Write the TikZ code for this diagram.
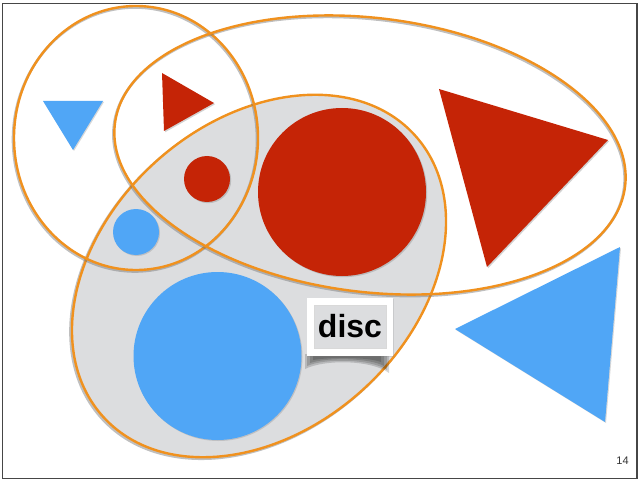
\documentclass[tikz,border=0pt]{standalone}
\usepackage{fontspec}
\setmainfont{Liberation Sans}
\usetikzlibrary{shadows}
\definecolor{ored}{RGB}{197,36,6}
\definecolor{oblue}{RGB}{80,166,246}
\definecolor{oorange}{RGB}{240,145,30}
\definecolor{ogray}{RGB}{220,221,223}
\definecolor{oframe}{RGB}{70,70,70}
\tikzset{
  setline/.style={draw=oorange, line width=2.4pt},
  setshade/.style={draw=black!55, line width=2.6pt, opacity=0.45},
  redshape/.style={fill=ored, drop shadow={opacity=0.35, shadow xshift=1.2pt, shadow yshift=-1.2pt}},
  blueshape/.style={fill=oblue, drop shadow={opacity=0.3, shadow xshift=1pt, shadow yshift=-1pt}},
  curlshade/.style={fill=black, opacity=0.16},
}
\begin{document}
\begin{tikzpicture}[x=1pt,y=-1pt]
\useasboundingbox (0,0) rectangle (639,481);
\fill[white] (0,0) rectangle (639,481);
\draw[oframe, line width=1.5pt] (2.5,3.5) rectangle (637,478.5);

% gray set (lower ellipse)
\draw[setshade, shift={(257.5,277.5)}, rotate=42] (0,0) ellipse [x radius=210pt, y radius=154pt];
\fill[ogray, shift={(259,276)}, rotate=42] (0,0) ellipse [x radius=210pt, y radius=154pt];
\draw[setline, shift={(259,276)}, rotate=42] (0,0) ellipse [x radius=210pt, y radius=154pt];

% left set
\draw[setshade] (135,139.5) ellipse [x radius=122pt, y radius=132pt];
\draw[setline] (136,138) ellipse [x radius=122pt, y radius=132pt];

% wide set
\draw[setshade, shift={(369,156.5)}, rotate=-7] (0,0) ellipse [x radius=257pt, y radius=137pt];
\draw[setline, shift={(370,155)}, rotate=-7] (0,0) ellipse [x radius=257pt, y radius=137pt];

% shapes
\path[blueshape] (43,101) -- (103,101) -- (73,150) -- cycle;
\path[redshape] (162,73) -- (214,103) -- (164,131) -- cycle;
\path[redshape] (207,179) circle [radius=23pt];
\path[blueshape] (136,232) circle [radius=23pt];
\path[redshape] (342,192) circle [radius=84pt];
\path[blueshape] (217.5,356) circle [radius=84pt];
\path[redshape] (439,89) -- (608,140) -- (487,267) -- cycle;
\path[blueshape] (455,329) -- (620,247) -- (605,422) -- cycle;

% disc label with curled shadow
\path[curlshade] (305,354) -- (389,354) -- (389,373) .. controls (372,360) and (325,359) .. (305,369) -- cycle;
\path[curlshade] (307,354) -- (387,354) -- (387,370) .. controls (372,359) and (325,358) .. (307,366) -- cycle;
\path[curlshade] (310,354) -- (384,354) -- (384,366) .. controls (370,358) and (328,357) .. (310,363) -- cycle;
\path[curlshade] (313,354) -- (381,354) -- (381,362) .. controls (368,357) and (330,357) .. (313,360) -- cycle;
\node[fill=white, minimum width=86pt, minimum height=58pt, inner sep=0pt, drop shadow={opacity=0.2, shadow xshift=0.8pt, shadow yshift=-0.8pt}] (discbox) at (350,327) {};
\node[fill=ogray, draw=black!15, line width=0.6pt, minimum width=72pt, minimum height=43pt, inner sep=0pt, font=\fontsize{32}{33}\selectfont\bfseries] (disc) at (350,326.5) {disc};

% page number
\node[font=\fontsize{11}{12}\selectfont, text=black!80] (pnum) at (622.5,461) {14};
\end{tikzpicture}
\end{document}
